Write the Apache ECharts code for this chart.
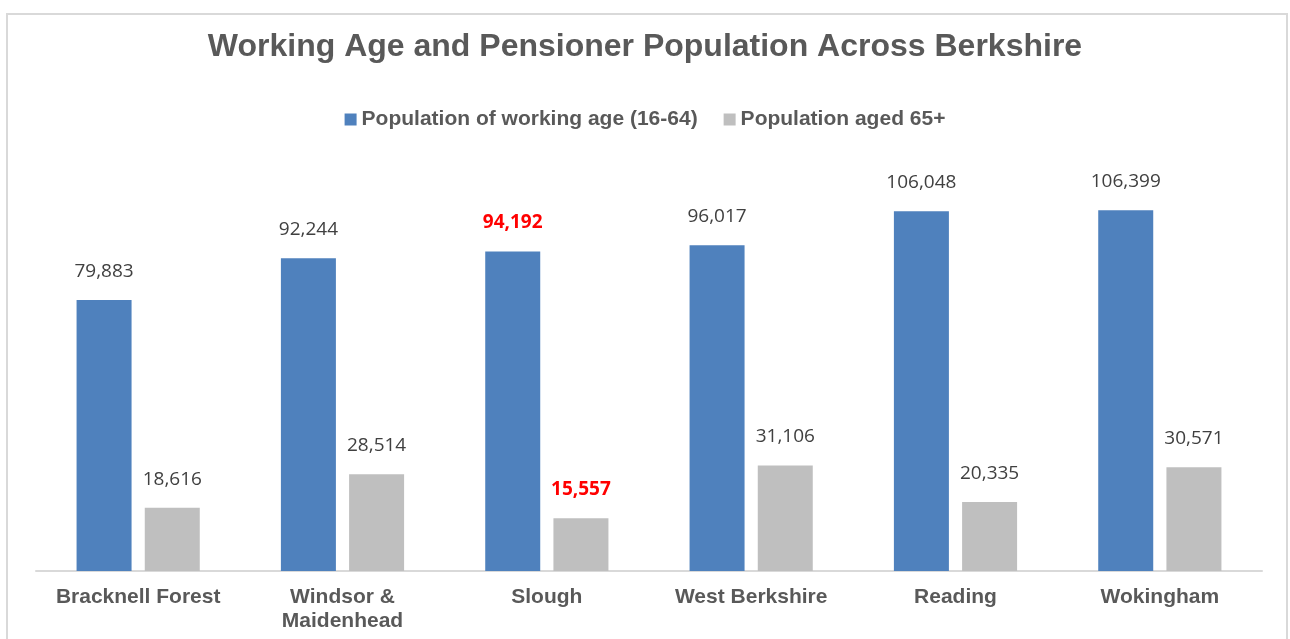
<!DOCTYPE html>
<html>
<head>
<meta charset="utf-8">
<script src="https://cdn.jsdelivr.net/npm/echarts@6/dist/echarts.min.js"></script>
<style>
    html, body { margin: 0; padding: 0; background: #fff; }
    #chart { width: 1290px; height: 639px; }
</style>
</head>
<body>
<div id="chart"></div>
<script>
const categories = ['Bracknell Forest', 'Windsor &\nMaidenhead', 'Slough', 'West Berkshire', 'Reading', 'Wokingham'];
const workingAge = [79883, 92244, 94192, 96017, 106048, 106399];
const aged65 = [18616, 28514, 15557, 31106, 20335, 30571];
const highlight = 'Slough';

const labelStyle = {
    show: true,
    position: 'top',
    distance: 19,
    color: '#404040',
    fontSize: 19,
    fontFamily: 'Open Sans',
    formatter: p => p.value.toLocaleString('en-US')
};

function toItems(values) {
    return values.map((v, i) => {
        if (categories[i] === highlight) {
            return { value: v, label: { color: '#ff0000', fontWeight: 'bold' } };
        }
        return v;
    });
}

let myChart = echarts.init(document.getElementById('chart'));
myChart.setOption({
    animation: false,
    title: {
        text: 'Working Age and Pensioner Population Across Berkshire',
        left: 'center',
        top: 26,
        textStyle: {
            color: '#595959',
            fontSize: 32,
            fontWeight: 'bold',
            fontFamily: 'Liberation Sans'
        }
    },
    legend: {
        top: 104,
        left: 'center',
        itemWidth: 12,
        itemHeight: 12,
        itemGap: 26,
        icon: 'rect',
        textStyle: {
            color: '#595959',
            fontSize: 21,
            fontWeight: 'bold',
            fontFamily: 'Liberation Sans'
        }
    },
    graphic: [{
        type: 'rect',
        shape: { x: 7, y: 14, width: 1280, height: 640 },
        style: { fill: 'none', stroke: '#d9d9d9', lineWidth: 2 },
        silent: true
    }],
    grid: { left: 36, right: 28, top: 164, bottom: 68 },
    xAxis: {
        type: 'category',
        data: categories,
        axisTick: { show: false },
        axisLine: { lineStyle: { color: '#d9d9d9', width: 2 } },
        axisLabel: {
            color: '#595959',
            fontSize: 21,
            fontWeight: 'bold',
            fontFamily: 'Liberation Sans',
            margin: 14,
            lineHeight: 24,
            interval: 0
        }
    },
    yAxis: {
        type: 'value',
        min: 0,
        max: 120000,
        show: false,
        splitLine: { show: false }
    },
    series: [
        {
            name: 'Population of working age (16-64)',
            type: 'bar',
            barWidth: 55,
            barGap: '24%',
            data: toItems(workingAge),
            itemStyle: { color: '#4f81bd' },
            label: labelStyle
        },
        {
            name: 'Population aged 65+',
            type: 'bar',
            barWidth: 55,
            data: toItems(aged65),
            itemStyle: { color: '#bfbfbf' },
            label: labelStyle
        }
    ]
});
</script>
</body>
</html>
